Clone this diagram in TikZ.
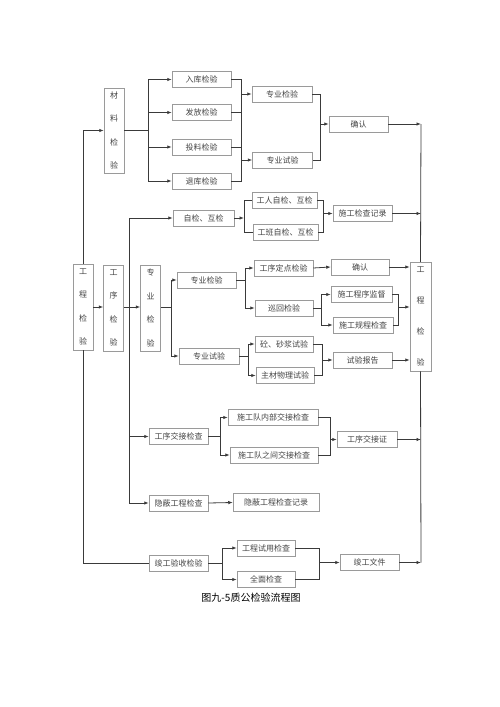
\documentclass[tikz,border=0pt]{standalone}
\usepackage{fontspec}
\setmainfont{Noto Sans CJK SC}
\usetikzlibrary{arrows.meta}
\definecolor{boxc}{HTML}{9A9A9A}
\definecolor{txtc}{HTML}{444444}
\definecolor{linec}{HTML}{3A3A3A}
\begin{document}
\begin{tikzpicture}[x=1pt,y=-1pt,
 box/.style={draw=boxc, line width=0.5pt, text=txtc, font=\fontsize{8}{10}\selectfont, inner sep=0pt, minimum height=16pt, minimum width=59pt},
 vbox/.style={draw=boxc, line width=0.5pt, text=txtc, align=center, inner sep=0pt, minimum width=20pt, font=\fontsize{8}{23.5}\selectfont},
 ln/.style={draw=linec, line width=0.8pt},
 arr/.style={ln, -{Latex[length=4.5pt,width=3.5pt]}}]
\useasboundingbox (0,0) rectangle (500,707);

% vertical boxes
\node[vbox, minimum height=85pt] (m) at (114,130.5) {材\\料\\检\\验};
\node[vbox, minimum height=86pt] (L) at (83,307) {工\\程\\检\\验};
\node[vbox, minimum height=86pt] (P) at (113.5,308) {工\\序\\检\\验};
\node[vbox, minimum height=86pt] (Z) at (150.5,308) {专\\业\\检\\验};
\node[vbox, minimum height=109pt, minimum width=21pt, font=\fontsize{8}{31}\selectfont] (R) at (420.5,316.5) {工\\程\\检\\验};

% material branch
\node[box] (r1) at (201.5,79.5) {入库检验};
\node[box] (r2) at (201.5,112.5) {发放检验};
\node[box] (r3) at (201.5,147) {投料检验};
\node[box] (r4) at (201.5,181) {退库检验};
\node[box, minimum width=60pt] (s1) at (282,94) {专业检验};
\node[box, minimum width=60pt] (s2) at (282.5,160) {专业试验};
\node[box] (qr) at (358.5,124) {确认};

% self check
\node[box, minimum width=61pt] (zj) at (203.5,218) {自检、互检};
\node[box, minimum width=65pt] (g1) at (284.5,200) {工人自检、互检};
\node[box, minimum width=65pt] (g2) at (285.5,232) {工班自检、互检};
\node[box] (sj) at (362.5,213.5) {施工检查记录};

% professional
\node[box] (zy) at (206.5,280) {专业检验};
\node[box, minimum width=60pt] (zs) at (209,356) {专业试验};
\node[box] (dd) at (283.5,268) {工序定点检验};
\node[box, minimum width=58pt] (qr2) at (360,267) {确认};
\node[box, minimum width=58pt] (xh) at (284,308) {巡回检验};
\node[box, minimum width=61pt] (jd) at (361.5,294.5) {施工程序监督};
\node[box, minimum width=60pt] (gc) at (363,325) {施工规程检查};
\node[box, minimum width=58pt] (ts) at (284,344) {砼、砂浆试验};
\node[box, minimum width=58pt] (wl) at (285,375.5) {主材物理试验};
\node[box] (bg) at (362.5,360) {试验报告};

% handover
\node[box] (jj) at (178.5,436.5) {工序交接检查};
\node[box, minimum width=90pt] (n1) at (273,417.5) {施工队内部交接检查};
\node[box, minimum width=88pt] (n2) at (274,455) {施工队之间交接检查};
\node[box, minimum width=60pt] (jz) at (367,439.5) {工序交接证};
\node[box] (yb) at (178.5,503) {隐蔽工程检查};
\node[box, minimum width=86pt, minimum height=18pt] (ybj) at (276,502.5) {隐蔽工程检查记录};

% completion
\node[box] (jg) at (178.5,563.5) {竣工验收检验};
\node[box, minimum width=58pt] (sy) at (266,548) {工程试用检查};
\node[box, minimum width=58pt] (qm) at (266,579.5) {全面检查};
\node[box] (wj) at (369.5,562.5) {竣工文件};

\node[font=\fontsize{10}{12}\selectfont, text=black] (cap) at (251,598) {图九-5质公检验流程图};

% bracket coordinates
\coordinate (mt) at (148,0);
\coordinate (b1) at (241,0);
\coordinate (b2) at (320,0);
\coordinate (V) at (421,0);
\coordinate (T2) at (129,0);
\coordinate (b3) at (244,0);
\coordinate (b4) at (323,0);
\coordinate (zt) at (171,0);
\coordinate (b5) at (245,0);
\coordinate (b6) at (321,0);
\coordinate (b7) at (398,0);
\coordinate (b8) at (248,0);
\coordinate (b9) at (322,0);
\coordinate (b10) at (220,0);
\coordinate (b11) at (330,0);
\coordinate (b12) at (222,0);
\coordinate (b13) at (319,0);
\coordinate (ya) at (0,134);
\coordinate (yb1) at (0,94);
\coordinate (yb2) at (0,160);
\coordinate (yR1) at (0,307);
\coordinate (yR2) at (0,358.5);

% left trunk
\draw[arr] (L.north) |- (m.west);
\draw[ln] (L.south) |- (jg.west);

% material
\draw[ln] (m.east) -- (mt|-m);
\draw[ln] (mt|-r1) -- (mt|-r4);
\draw[arr] (mt|-r1) -- (r1.west);
\draw[arr] (mt|-r2) -- (r2.west);
\draw[arr] (mt|-r3) -- (r3.west);
\draw[arr] (mt|-r4) -- (r4.west);
\draw[ln] (r1.east) -- (b1|-r1) -- (b1|-r4) -- (r4.east);
\draw[ln] (r2.east) -- (b1|-r2);
\draw[ln] (r3.east) -- (b1|-r3);
\draw[arr] (b1|-s1) -- (s1.west);
\draw[arr] (b1|-s2) -- (s2.west);
\draw[ln] (s1.east) -- (b2|-s1) -- (b2|-s2) -- (s2.east);
\draw[arr] (b2|-qr) -- (qr.west);
\draw[arr] (qr.east) -- (V|-qr);

% right spine
\draw[ln] (V|-qr) -- (R.north);
\draw[ln] (R.south) -- (V|-wj);

% process trunk
\draw[arr] (L.east|-yR1) -- (P.west|-yR1);
\draw[arr] (P.east|-yR1) -- (Z.west|-yR1);
\draw[ln] (T2|-zj) -- (T2|-yb);
\draw[arr] (T2|-zj) -- (zj.west);
\draw[arr] (T2|-jj) -- (jj.west);
\draw[arr] (T2|-yb) -- (yb.west);

% self check
\draw[arr] (zj.east) -- (b3|-zj);
\draw[ln] (g1.west) -- (b3|-g1) -- (b3|-g2) -- (g2.west);
\draw[ln] (g1.east) -- (b4|-g1) -- (b4|-g2) -- (g2.east);
\draw[arr] (b4|-sj) -- (sj.west);
\draw[arr] (sj.east) -- (V|-sj);

% professional
\draw[ln] (Z.east|-yR1) -- (zt|-yR1);
\draw[ln] (zt|-zy) -- (zt|-zs);
\draw[arr] (zt|-zy) -- (zy.west);
\draw[arr] (zt|-zs) -- (zs.west);
\draw[ln] (zy.east) -- (b5|-zy);
\draw[ln] (b5|-dd) -- (b5|-xh);
\draw[arr] (b5|-dd) -- (dd.west);
\draw[arr] (b5|-xh) -- (xh.west);
\draw[arr] (dd.east) -- (qr2.west);
\draw[arr] (qr2.east) -- (R.west|-qr2);
\draw[ln] (xh.east) -- (b6|-xh);
\draw[ln] (b6|-jd) -- (b6|-gc);
\draw[arr] (b6|-jd) -- (jd.west);
\draw[arr] (b6|-gc) -- (gc.west);
\draw[ln] (jd.east) -- (b7|-jd) -- (b7|-gc) -- (gc.east);
\draw[arr] (b7|-yR1) -- (R.west|-yR1);
\draw[ln] (zs.east) -- (b8|-zs);
\draw[ln] (b8|-ts) -- (b8|-wl);
\draw[arr] (b8|-ts) -- (ts.west);
\draw[arr] (b8|-wl) -- (wl.west);
\draw[ln] (ts.east) -- (b9|-ts) -- (b9|-wl) -- (wl.east);
\draw[arr] (b9|-bg) -- (bg.west);
\draw[arr] (bg.east) -- (R.west|-bg);

% handover
\draw[ln] (jj.east) -- (b10|-jj);
\draw[ln] (b10|-n1) -- (b10|-n2);
\draw[arr] (b10|-n1) -- (n1.west);
\draw[arr] (b10|-n2) -- (n2.west);
\draw[ln] (n1.east) -- (b11|-n1) -- (b11|-n2) -- (n2.east);
\draw[arr] (b11|-jz) -- (jz.west);
\draw[arr] (jz.east) -- (V|-jz);
\draw[arr] (yb.east) -- (ybj.west);

% completion
\draw[ln] (jg.east) -- (b12|-jg);
\draw[ln] (b12|-sy) -- (b12|-qm);
\draw[arr] (b12|-sy) -- (sy.west);
\draw[arr] (b12|-qm) -- (qm.west);
\draw[ln] (sy.east) -- (b13|-sy) -- (b13|-qm) -- (qm.east);
\draw[arr] (b13|-wj) -- (wj.west);
\draw[arr] (wj.east) -- (V|-wj);
\end{tikzpicture}
\end{document}
